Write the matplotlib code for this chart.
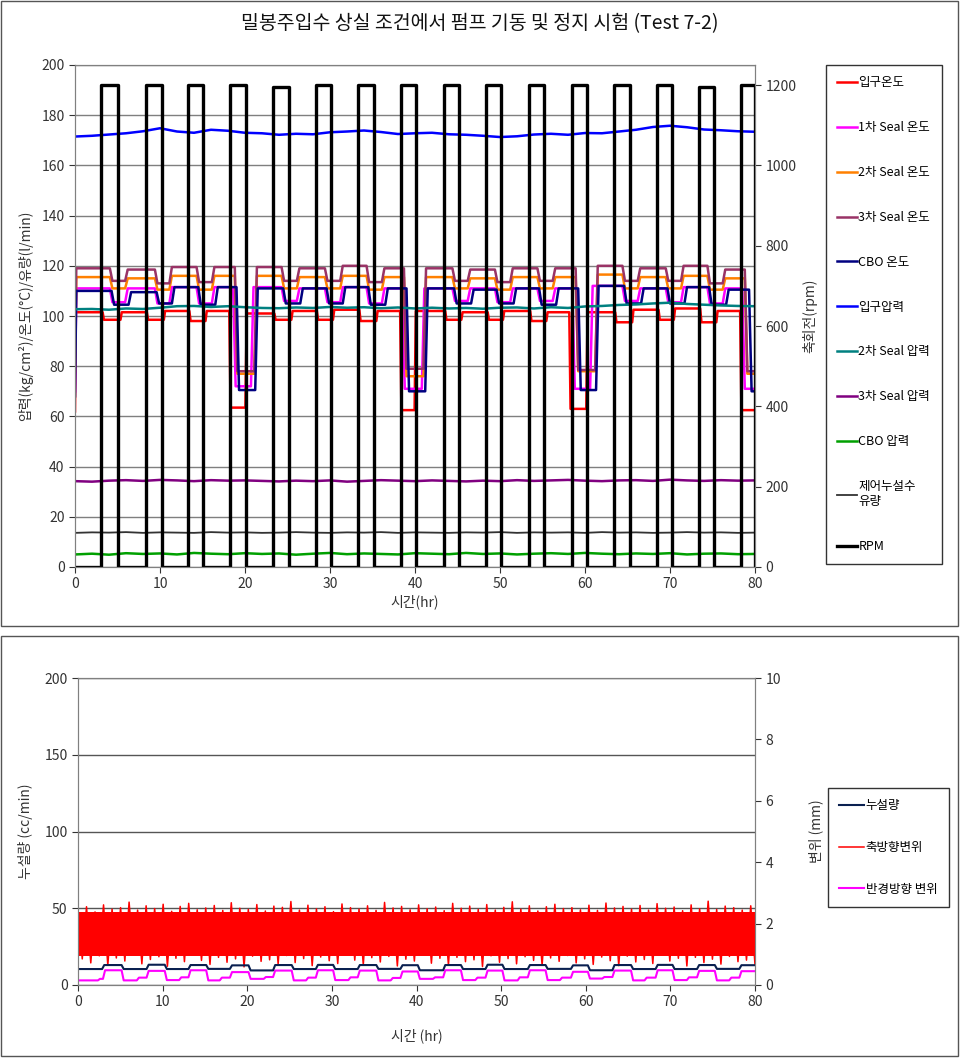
import numpy as np
import matplotlib
matplotlib.use("Agg")
import matplotlib.pyplot as plt
from matplotlib.patches import Rectangle

plt.rcParams['font.family'] = ['Noto Sans CJK KR', 'DejaVu Sans']

# ---- top chart data (hours) ----
on_start = [3.1, 8.35, 13.3, 18.2, 23.3, 28.35, 33.3, 38.35, 43.4, 48.4, 53.4, 58.5, 63.4, 68.5, 73.4, 78.4]
on_end = [5.1, 10.2, 15.1, 20.1, 25.2, 30.1, 35.2, 40.1, 45.2, 50.1, 55.2, 60.2, 65.3, 70.2, 75.2, 80.0]
rpm_top = [1200, 1200, 1200, 1200, 1195, 1200, 1200, 1200, 1200, 1200, 1200, 1200, 1200, 1200, 1195, 1200]

inlet_t = [0, 0.1, 3.4, 5.5, 8.6, 10.6, 13.6, 15.5, 18.3, 20.2, 23.6, 25.6, 28.6, 30.5, 33.6, 35.6,
           38.4, 40.1, 43.7, 45.6, 48.7, 50.5, 53.7, 55.6, 58.3, 60.3, 63.7, 65.7, 68.8, 70.6, 73.7, 75.6, 78.4]
inlet_v = [62, 101.5, 98.5, 101.5, 98.5, 102, 98, 102, 63.5, 101, 98.5, 102, 98.5, 102.5, 98, 102,
           62.5, 102, 98.5, 101.5, 98.5, 102, 98, 101.5, 63, 101.5, 97.5, 102.5, 98.5, 103, 97.5, 102, 62.5]

seal_t = [0, 0.15, 4.4, 6.2, 9.7, 11.4, 14.6, 16.4, 19.1, 21.4, 24.6, 26.4, 29.7, 31.5, 34.6, 36.4,
          39.0, 41.3, 44.7, 46.5, 49.7, 51.5, 54.7, 56.5, 59.2, 61.5, 64.7, 66.5, 69.8, 71.6, 74.7, 76.5, 79.1]
seal1_t = [0, 0.15, 4.4, 6.2, 9.7, 11.4, 14.6, 16.4, 18.9, 21.0, 24.6, 26.4, 29.7, 31.5, 34.6, 36.4,
           38.8, 41.1, 44.7, 46.5, 49.7, 51.5, 54.7, 56.5, 58.8, 60.9, 64.7, 66.5, 69.8, 71.6, 74.7, 76.5, 78.8]
seal1_v = [70, 111, 105.5, 111, 105, 111.5, 105, 111.5, 72, 111.5, 106, 111, 105.5, 111.5, 105, 111,
           71, 111, 106, 111, 105.5, 111, 106, 111, 71, 112, 106, 111, 105.5, 111.5, 105, 111, 71]
seal2_v = [78, 115.5, 111, 115, 110.5, 116, 110.5, 116, 77, 116, 111, 115.5, 111, 116, 110.5, 115.5,
           76, 115.5, 111, 115, 110.5, 115.5, 111, 115.5, 78, 116.5, 111, 115.5, 111, 116, 110.5, 115, 77]
seal3_v = [80, 119, 114, 118.5, 113, 119.5, 113.5, 119.5, 78, 119.5, 114, 119, 114, 120, 113.5, 119,
           79, 119, 114, 118.5, 113.5, 119, 114, 119, 78.5, 120, 114, 119, 114, 120, 113, 118.5, 78]

cbo_t = [0, 0.15, 4.6, 6.6, 9.9, 11.7, 14.8, 16.8, 19.3, 21.5, 24.8, 26.8, 29.9, 31.8, 34.8, 36.8,
         39.3, 41.5, 44.9, 46.9, 49.9, 51.9, 54.9, 56.9, 59.5, 61.6, 64.9, 66.9, 70.0, 72.0, 74.9, 76.9, 79.6]
cbo_v = [68, 110, 104.5, 109.5, 105, 111.5, 104.5, 111.5, 70.5, 111, 105, 111, 105, 111.5, 104.5, 111,
         70, 111, 105, 110.5, 105, 111, 104.5, 111, 70.5, 112, 105, 111, 105, 111.5, 104.5, 110.5, 70]

slow_t = list(range(0, 81, 2))
inlet_p = [171.5, 171.8, 172.3, 172.8, 173.6, 174.8, 173.5, 173.0, 174.2, 173.8, 173.0, 172.8, 172.2, 172.6,
           172.4, 173.2, 173.5, 173.9, 173.3, 172.5, 172.8, 173.0, 172.4, 172.2, 171.8, 171.3, 171.6, 172.3,
           172.6, 172.2, 172.9, 172.8, 173.5, 174.2, 175.3, 175.8, 175.2, 174.3, 174.0, 173.6, 173.4]
seal2_p = [102.7, 102.8, 102.5, 103.0, 102.8, 103.3, 103.9, 104.0, 103.6, 103.9, 103.5, 103.2, 103.1, 103.4,
           103.2, 103.6, 103.3, 103.5, 103.1, 103.4, 103.0, 103.3, 103.0, 103.2, 102.9, 103.3, 103.4, 103.0,
           103.5, 103.2, 103.8, 104.0, 104.4, 104.6, 105.0, 105.3, 104.8, 104.5, 104.2, 104.0, 103.9]
seal3_p = [34.2, 34.0, 34.4, 34.6, 34.3, 34.7, 34.5, 34.2, 34.6, 34.4, 34.5, 34.3, 34.1, 34.4, 34.2, 34.5,
           34.0, 34.3, 34.6, 34.4, 34.2, 34.5, 34.3, 34.1, 34.4, 34.2, 34.6, 34.3, 34.5, 34.7, 34.4, 34.2,
           34.5, 34.6, 34.3, 34.8, 34.5, 34.3, 34.6, 34.4, 34.5]
cbo_p = [5.0, 5.3, 4.9, 5.5, 5.2, 5.4, 5.0, 5.6, 5.3, 5.1, 5.5, 5.2, 5.4, 4.9, 5.3, 5.6, 5.1, 5.4, 5.2, 5.0,
         5.5, 5.3, 5.1, 5.6, 5.2, 5.4, 5.0, 5.3, 5.5, 5.2, 5.6, 5.3, 5.1, 5.4, 5.2, 5.5, 5.0, 5.3, 5.4, 5.1, 5.2]
leak_flow = [13.6, 13.8, 13.7, 13.9, 13.6, 13.8, 13.7, 13.6, 13.9, 13.7, 13.8, 13.6, 13.7, 13.9, 13.7, 13.6,
             13.8, 13.7, 13.9, 13.6, 13.8, 13.7, 13.6, 13.8, 13.7, 13.9, 13.6, 13.8, 13.7, 13.8, 13.6, 13.9,
             13.7, 13.8, 13.6, 13.7, 13.9, 13.7, 13.8, 13.6, 13.7]

# ---- bottom chart data ----
leak_t = [0, 3.1, 5.4, 8.35, 10.5, 13.3, 15.4, 18.2, 20.4, 23.3, 25.5, 28.35, 30.4, 33.3, 35.5, 38.35, 40.4,
          43.4, 45.5, 48.4, 50.4, 53.4, 55.5, 58.5, 60.5, 63.4, 65.6, 68.5, 70.5, 73.4, 75.5, 78.4]
leak_v = [10.4, 13.0, 10.4, 13.2, 10.4, 13.0, 10.5, 12.8, 9.5, 13.0, 10.4, 13.1, 10.4, 13.0, 10.5, 12.9, 9.6,
          13.0, 10.4, 13.2, 10.4, 13.0, 10.5, 12.8, 9.6, 13.0, 10.4, 13.1, 10.4, 13.0, 10.5, 12.9]

radial_t = [0, 2.6, 3.2, 5.4, 7.2, 8.35, 10.5, 12.2, 13.3, 15.4, 17.0, 18.2, 20.4, 22.2, 23.3, 25.5, 27.2,
            28.35, 30.4, 32.2, 33.3, 35.5, 37.2, 38.35, 40.4, 42.2, 43.4, 45.5, 47.2, 48.4, 50.4, 52.2,
            53.4, 55.5, 57.2, 58.5, 60.5, 62.2, 63.4, 65.6, 67.2, 68.5, 70.5, 72.2, 73.4, 75.5, 77.2, 78.4]
radial_v = [0.15, 0.2, 0.48, 0.15, 0.24, 0.46, 0.16, 0.25, 0.48, 0.15, 0.24, 0.42, 0.2, 0.26, 0.47, 0.15, 0.24,
            0.48, 0.16, 0.25, 0.47, 0.15, 0.23, 0.44, 0.2, 0.25, 0.48, 0.16, 0.24, 0.47, 0.15, 0.25,
            0.48, 0.16, 0.24, 0.43, 0.21, 0.26, 0.47, 0.15, 0.24, 0.48, 0.16, 0.25, 0.46, 0.15, 0.24, 0.45]

axial_peaks = [2.42, 2.55, 2.38, 2.61, 2.47, 2.52, 2.70, 2.44, 2.58, 2.49, 2.63, 2.40, 2.56, 2.66, 2.45, 2.51,
               2.59, 2.43, 2.68, 2.50, 2.46, 2.62, 2.41, 2.57, 2.53, 2.72, 2.44, 2.60, 2.48, 2.55, 2.39, 2.64,
               2.52, 2.47, 2.58, 2.43, 2.69, 2.51, 2.56, 2.45, 2.61, 2.48, 2.54, 2.42, 2.66, 2.50, 2.57, 2.46,
               2.62, 2.44, 2.53, 2.71, 2.47, 2.58, 2.41, 2.55, 2.63, 2.49, 2.52, 2.45, 2.60, 2.43, 2.67, 2.51,
               2.56, 2.47, 2.59, 2.44, 2.65, 2.50, 2.54, 2.42, 2.61, 2.48, 2.73, 2.46, 2.57, 2.52, 2.44, 2.58]
axial_troughs = [0.85, 0.72, 0.95, 0.64, 0.88, 0.78, 1.00, 0.69, 0.83, 0.92, 0.61, 0.87, 0.76, 0.98, 0.80, 0.67,
                 0.90, 0.74, 0.85, 0.59, 0.94, 0.77, 0.82, 0.68, 0.96, 0.73, 0.86, 0.63, 0.91, 0.79, 0.70, 0.97,
                 0.81, 0.66, 0.89, 0.75, 0.93, 0.62, 0.84, 0.78, 0.99, 0.71, 0.87, 0.65, 0.90, 0.76, 0.82, 0.60,
                 0.95, 0.74, 0.86, 0.69, 0.92, 0.80, 0.64, 0.88, 0.77, 0.96, 0.72, 0.85, 0.67, 0.91, 0.79, 0.63,
                 0.94, 0.75, 0.83, 0.70, 0.98, 0.78, 0.87, 0.62, 0.90, 0.73, 0.84, 0.68, 0.93, 0.76, 0.81, 0.66]
axial_band = [0.95, 2.38]


def steps(t, v, ramp=0.3, tmax=80.0):
    xs, ys = [], []
    for i in range(len(t)):
        xs.append(t[i])
        ys.append(v[i])
        end = t[i + 1] - ramp if i + 1 < len(t) else tmax
        xs.append(max(end, t[i]))
        ys.append(v[i])
    return xs, ys


def rpm_line():
    xs, ys = [0], [0]
    for a, b, top in zip(on_start, on_end, rpm_top):
        xs += [a, a, b, b]
        ys += [0, top, top, 0]
    return xs, ys


fig = plt.figure(figsize=(9.6, 10.58), dpi=100)
fig.patches.append(Rectangle((1 / 960, 1 - 626 / 1058), 957 / 960, 625 / 1058, transform=fig.transFigure,
                             fill=False, edgecolor='#555555', lw=1))
fig.patches.append(Rectangle((1 / 960, 1 - 1056 / 1058), 957 / 960, 420 / 1058, transform=fig.transFigure,
                             fill=False, edgecolor='#555555', lw=1))

tick_color = '#333333'
grid_color = '#7f7f7f'

# ================= top chart =================
ax = fig.add_axes([75 / 960, 1 - 567 / 1058, 680 / 960, 502 / 1058])
ax.set_xlim(0, 80)
ax.set_ylim(0, 200)
ax.set_xticks(range(0, 81, 10))
ax.set_yticks(range(0, 201, 20))
ax.grid(axis='y', color=grid_color, lw=1)
ax.set_axisbelow(True)

lw = 1.8
series = []
x, y = steps(inlet_t, inlet_v, ramp=0.15)
series.append(ax.plot(x, y, color='#ff0000', lw=lw, label='입구온도')[0])
x, y = steps(seal1_t, seal1_v)
series.append(ax.plot(x, y, color='#ff00ff', lw=lw, label='1차 Seal 온도')[0])
x, y = steps(seal_t, seal2_v)
series.append(ax.plot(x, y, color='#ff8000', lw=lw, label='2차 Seal 온도')[0])
x, y = steps(seal_t, seal3_v)
series.append(ax.plot(x, y, color='#993366', lw=lw, label='3차 Seal 온도')[0])
x, y = steps(cbo_t, cbo_v)
series.append(ax.plot(x, y, color='#000080', lw=lw, label='CBO 온도')[0])
series.append(ax.plot(slow_t, inlet_p, color='#0000ff', lw=lw, label='입구압력')[0])
series.append(ax.plot(slow_t, seal2_p, color='#008080', lw=lw, label='2차 Seal 압력')[0])
series.append(ax.plot(slow_t, seal3_p, color='#800080', lw=lw, label='3차 Seal 압력')[0])
series.append(ax.plot(slow_t, cbo_p, color='#00a000', lw=lw, label='CBO 압력')[0])
series.append(ax.plot(slow_t, leak_flow, color='#333333', lw=1.3, label='제어누설수\n유량')[0])

ax2 = ax.twinx()
ax2.set_ylim(0, 1250)
ax2.set_yticks(range(0, 1201, 200))
x, y = rpm_line()
series.append(ax2.plot(x, y, color='black', lw=2.4, label='RPM')[0])

for a in (ax, ax2):
    for s in a.spines.values():
        s.set_color('#808080')
    a.tick_params(colors=tick_color, labelsize=10, direction='out', length=4)
ax.set_xlabel('시간(hr)', fontsize=10, color=tick_color, labelpad=2)
ax.set_ylabel('압력(kg/cm²)/온도(°C)/유량(l/min)', fontsize=10, color=tick_color, labelpad=6)
ax2.set_ylabel('축회전(rpm)', fontsize=10, color=tick_color, rotation=90, labelpad=4)

leg = ax2.legend(handles=series, loc='upper left', bbox_to_anchor=(826 / 960, 1 - 65 / 1058),
                 bbox_transform=fig.transFigure, fontsize=9, frameon=True, fancybox=False,
                 edgecolor='black', handlelength=1.6, handletextpad=0.1, labelspacing=2.55,
                 borderpad=0.9, borderaxespad=0)
leg.get_frame().set_linewidth(1)

fig.text(480 / 960, 1 - 24 / 1058, '밀봉주입수 상실 조건에서 펌프 기동 및 정지 시험 (Test 7-2)',
         ha='center', va='center', fontsize=14, color='#111111')

# ================= bottom chart =================
bx = fig.add_axes([78 / 960, 1 - 985 / 1058, 677 / 960, 307 / 1058])
bx.set_xlim(0, 80)
bx.set_ylim(0, 200)
bx.set_xticks(range(0, 81, 10))
bx.set_yticks(range(0, 201, 50))
bx.grid(axis='y', color='#555555', lw=1)
bx.set_axisbelow(True)

bx2 = bx.twinx()
bx2.set_ylim(0, 10)
bx2.set_yticks(range(0, 11, 2))

n = len(axial_peaks)
zig_t = np.linspace(0, 80, 2 * n)
zig_v = np.empty(2 * n)
zig_v[0::2] = axial_peaks
zig_v[1::2] = axial_troughs
bx2.fill_between([0, 80], axial_band[0], axial_band[1], color='#ff0000', lw=0)
h_axial, = bx2.plot(zig_t, zig_v, color='#ff0000', lw=1.1, label='축방향변위')
x, y = steps(radial_t, radial_v, ramp=0.25)
h_radial, = bx2.plot(x, y, color='#ff00ff', lw=1.5, label='반경방향 변위')
x, y = steps(leak_t, leak_v, ramp=0.25)
h_leak, = bx2.plot(x, [v / 20 for v in y], color='#0a2050', lw=1.5, label='누설량')

for a in (bx, bx2):
    for s in a.spines.values():
        s.set_color('#808080')
    a.tick_params(colors=tick_color, labelsize=10, direction='out', length=4)
bx.set_xlabel('시간 (hr)', fontsize=10, color=tick_color, labelpad=14)
bx.set_ylabel('누설량 (cc/min)', fontsize=10, color=tick_color, labelpad=8)
bx2.set_ylabel('변위 (mm)', fontsize=10, color=tick_color, rotation=90, labelpad=20)

leg2 = bx2.legend(handles=[h_leak, h_axial, h_radial], loc='upper left',
                  bbox_to_anchor=(828 / 960, 1 - 788 / 1058), bbox_transform=fig.transFigure,
                  fontsize=9, frameon=True, fancybox=False, edgecolor='black', handlelength=2.0,
                  handletextpad=0.1, labelspacing=2.3, borderpad=0.9, borderaxespad=0)
leg2.get_frame().set_linewidth(1)

fig.savefig('out.png', dpi=100)
